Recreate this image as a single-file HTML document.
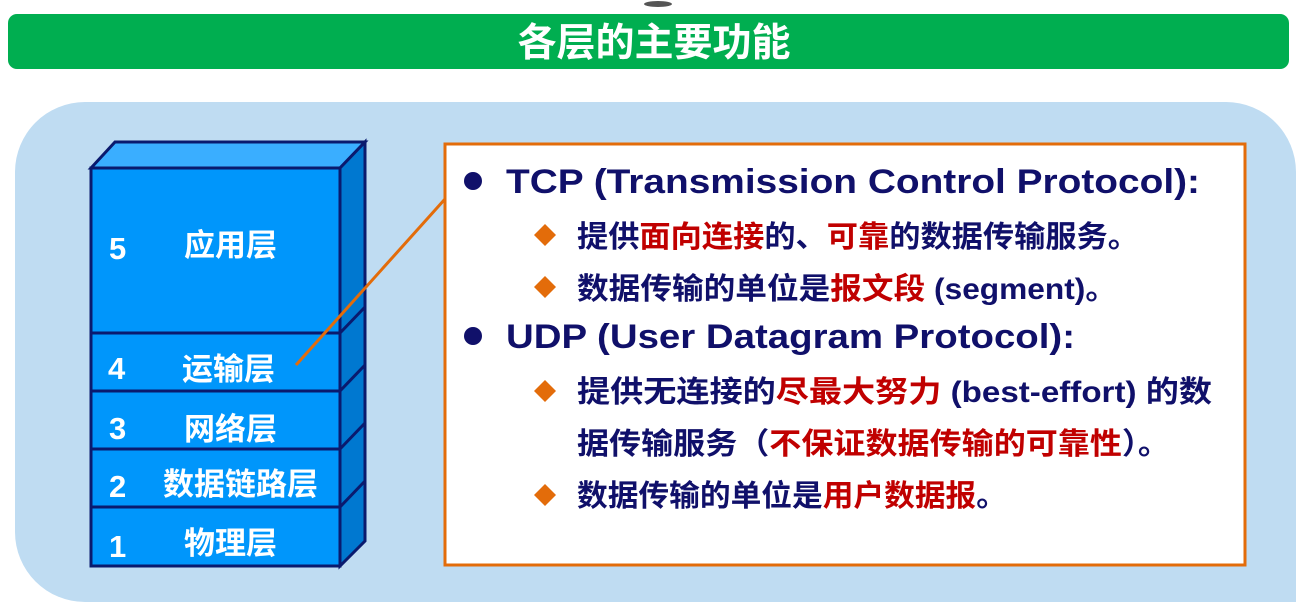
<!DOCTYPE html>
<html><head><meta charset="utf-8"><style>
html,body{margin:0;padding:0;background:#fff;}
svg{display:block;}
text{font-family:"Liberation Sans","Noto Sans CJK SC",sans-serif;font-weight:bold;}
</style></head><body>
<svg width="1296" height="602" viewBox="0 0 1296 602" xmlns="http://www.w3.org/2000/svg">
<ellipse cx="658" cy="4" rx="14" ry="3" fill="#555"/>
<rect x="8" y="14" width="1281" height="55" rx="9" fill="#00ae50"/>
<text x="654" y="56" font-size="39" fill="#fff" text-anchor="middle">各层的主要功能</text>
<path d="M85 102 H1226 A70 70 0 0 1 1296 172 V602 H85 A70 70 0 0 1 15 532 V172 A70 70 0 0 1 85 102 Z" fill="#bfdcf2"/>
<!-- stack -->
<g stroke="#0a1a6e" stroke-width="3" stroke-linejoin="miter">
<polygon points="91,168 115,142 365,142 340,168" fill="#3aaeff"/>
<polygon points="340,168 365,142 365,541 340,566" fill="#0078d0"/>
<rect x="91" y="168" width="249" height="398" fill="#0096fb"/>
<line x1="91" y1="333" x2="340" y2="333"/>
<line x1="91" y1="391" x2="340" y2="391"/>
<line x1="91" y1="449" x2="340" y2="449"/>
<line x1="91" y1="507" x2="340" y2="507"/>
<line x1="340" y1="333" x2="365" y2="307"/>
<line x1="340" y1="391" x2="365" y2="365"/>
<line x1="340" y1="449" x2="365" y2="423"/>
<line x1="340" y1="507" x2="365" y2="481"/>
</g>
<g fill="#fff" font-size="31">
<text x="109" y="259">5</text><text x="184" y="256">应用层</text>
<text x="108" y="379">4</text><text x="182" y="380">运输层</text>
<text x="109" y="439">3</text><text x="184" y="440">网络层</text>
<text x="109" y="497">2</text><text x="163" y="495">数据链路层</text>
<text x="109" y="557">1</text><text x="184" y="554">物理层</text>
</g>
<rect x="445" y="144" width="800" height="421" fill="#fff" stroke="#e36c0a" stroke-width="3"/>
<line x1="296" y1="365" x2="445" y2="199" stroke="#e36c0a" stroke-width="3"/>
<g fill="#10106a">
<circle cx="473" cy="181" r="9"/>
<circle cx="473" cy="336" r="9"/>
</g>
<g fill="#e36c0a">
<polygon points="545,224 556,235 545,246 534,235"/>
<polygon points="545,276 556,287 545,298 534,287"/>
<polygon points="545,380 556,391 545,402 534,391"/>
<polygon points="545,484 556,495 545,506 534,495"/>
</g>
<g fill="#10106a">
<text x="506" y="193" font-size="34" textLength="694" lengthAdjust="spacingAndGlyphs">TCP (Transmission Control Protocol):</text>
<text x="577" y="247" font-size="30" textLength="562" lengthAdjust="spacingAndGlyphs">提供<tspan fill="#c00000">面向连接</tspan>的、<tspan fill="#c00000">可靠</tspan>的数据传输服务。</text>
<text x="577" y="299" font-size="30" textLength="540" lengthAdjust="spacingAndGlyphs">数据传输的单位是<tspan fill="#c00000">报文段</tspan> (segment)。</text>
<text x="506" y="348" font-size="34" textLength="569" lengthAdjust="spacingAndGlyphs">UDP (User Datagram Protocol):</text>
<text x="577" y="402" font-size="30" textLength="635" lengthAdjust="spacingAndGlyphs">提供无连接的<tspan fill="#c00000">尽最大努力</tspan> (best-effort) 的数</text>
<text x="577" y="454" font-size="30" textLength="593" lengthAdjust="spacingAndGlyphs">据传输服务（<tspan fill="#c00000">不保证数据传输的可靠性</tspan>）。</text>
<text x="577" y="506" font-size="30" textLength="430" lengthAdjust="spacingAndGlyphs">数据传输的单位是<tspan fill="#c00000">用户数据报</tspan>。</text>
</g>
</svg>
</body></html>
